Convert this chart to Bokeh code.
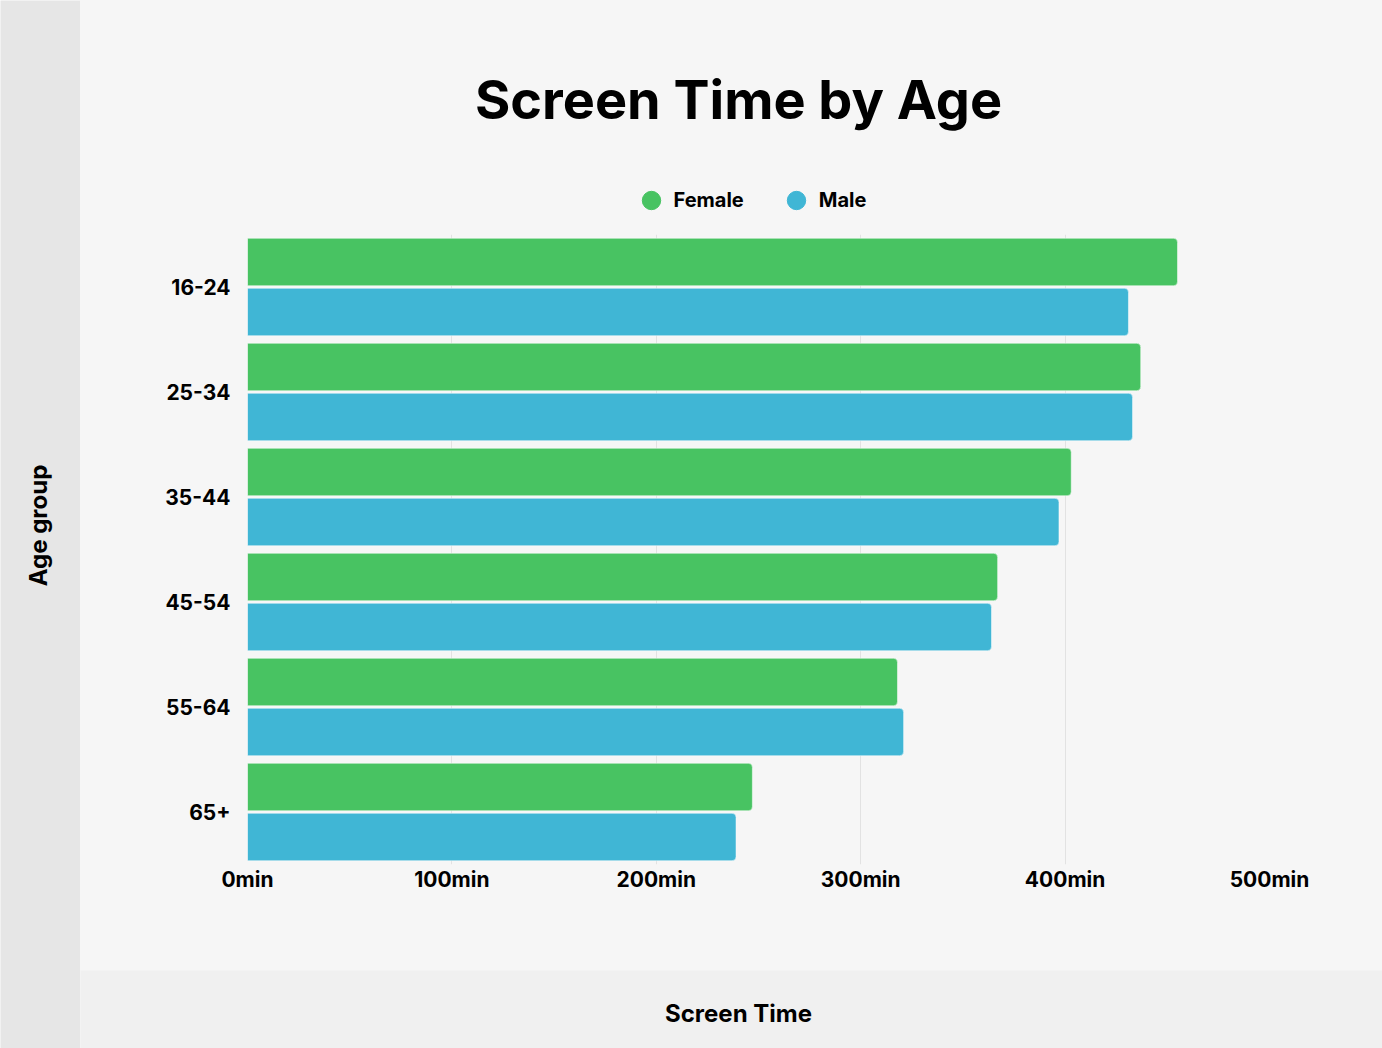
from math import pi

from bokeh.plotting import figure
from bokeh.models import (FactorRange, Range1d, ColumnDataSource, Label, Legend,
                          LegendItem, FixedTicker, PrintfTickFormatter, Plot)
from bokeh.transform import dodge
from bokeh.layouts import row, column
from bokeh.embed import file_html
from bokeh.resources import INLINE

# ---- data ----
age_groups = ["16-24", "25-34", "35-44", "45-54", "55-64", "65+"]
female_minutes = [455, 437, 403, 367, 318, 247]
male_minutes = [431, 433, 397, 364, 321, 239]
x_ticks = [0, 100, 200, 300, 400, 500]
series_names = ["Female", "Male"]

GREEN = "#48c362"
BLUE = "#40b6d5"
PANEL = "#f6f6f6"
LEFT_STRIP = "#e6e6e6"
BOTTOM_STRIP = "#f0f0f0"
FONT = "Inter"

HAS_FA = "frame_align" in Plot.properties()
FA = {"frame_align": False} if HAS_FA else {}

MAIN_W = 1302
LB, RB = 167, 113          # main frame borders (left/right)


def strip_fig(w, h, color, aligned):
    """A plain figure whose frame is used as a coloured panel."""
    if aligned:
        f = figure(width=w, height=h, x_range=Range1d(0, w), y_range=Range1d(0, h),
                   output_backend="svg", toolbar_location=None, min_border=0,
                   x_axis_type=None, y_axis_type=None, **FA)
    else:
        f = figure(width=w, height=h, x_range=Range1d(LB, w - RB), y_range=Range1d(0, h),
                   output_backend="svg", toolbar_location=None, min_border=0,
                   min_border_left=LB, min_border_right=RB,
                   x_axis_type=None, y_axis_type=None)
    f.background_fill_color = color
    f.border_fill_color = color
    f.outline_line_color = None
    return f


src = ColumnDataSource(dict(age=age_groups, female=female_minutes, male=male_minutes))

# ---- header (title + legend) ----
hf = strip_fig(MAIN_W, 234, PANEL, HAS_FA)
hf.add_layout(Label(x=658, y=135, text="Screen Time by Age", text_align="center",
                    text_baseline="middle", text_font=FONT,
                    text_font_style="bold", text_font_size="54px",
                    text_color="#000000"))
# hidden proxy renderers: they only provide the round legend markers
fs = hf.scatter(x=female_minutes, y=female_minutes, size=20, color=GREEN, visible=False)
ms = hf.scatter(x=male_minutes, y=male_minutes, size=20, color=BLUE, visible=False)
legend = Legend(items=[LegendItem(label=series_names[0], renderers=[fs]),
                       LegendItem(label=series_names[1], renderers=[ms])],
                orientation="horizontal",
                location=(547.5 if HAS_FA else 547.5 - LB, 9),
                glyph_width=46, glyph_height=50, label_standoff=0, spacing=29,
                padding=0, margin=0, border_line_color=None,
                background_fill_alpha=0,
                label_text_font=FONT, label_text_font_style="bold",
                label_text_font_size="20px", label_text_color="#000000")
hf.add_layout(legend)

# ---- main chart ----
p = figure(width=MAIN_W, height=736,
           y_range=FactorRange(factors=age_groups[::-1]),
           x_range=Range1d(0, 500),
           output_backend="svg", toolbar_location=None,
           min_border_left=LB, min_border_right=RB,
           min_border_top=0, min_border_bottom=106, **FA)
p.background_fill_color = PANEL
p.border_fill_color = PANEL
p.outline_line_color = None

p.hbar(y=dodge("age", 0.238, range=p.y_range), left=0, right="female", height=0.452,
       source=src, fill_color=GREEN, line_color="white", line_alpha=0.5, line_width=1,
       border_radius=(0, 4, 4, 0))
p.hbar(y=dodge("age", -0.238, range=p.y_range), left=0, right="male", height=0.452,
       source=src, fill_color=BLUE, line_color="white", line_alpha=0.5, line_width=1,
       border_radius=(0, 4, 4, 0))

p.xaxis.ticker = FixedTicker(ticks=x_ticks)
p.xaxis.formatter = PrintfTickFormatter(format="%dmin")
for ax in (p.xaxis, p.yaxis):
    ax.axis_line_color = None
    ax.major_tick_line_color = None
    ax.minor_tick_line_color = None
    ax.major_tick_out = 0
    ax.major_tick_in = 0
    ax.major_label_text_font = FONT
    ax.major_label_text_font_style = "bold"
    ax.major_label_text_font_size = "21px"
    ax.major_label_text_color = "#000000"
p.yaxis.major_label_standoff = 17
p.xaxis.major_label_standoff = 2

p.xgrid.grid_line_color = "#e2e2e2"
p.xgrid.grid_line_width = 1
p.ygrid.grid_line_color = None

# ---- bottom strip with x title ----
bf = strip_fig(MAIN_W, 78, BOTTOM_STRIP, HAS_FA)
bf.add_layout(Label(x=658, y=35, text="Screen Time",
                    text_align="center", text_baseline="middle",
                    text_font=FONT, text_font_style="bold",
                    text_font_size="24px", text_color="#000000"))

# ---- left strip with y title ----
lf = figure(width=80, height=1048, x_range=Range1d(0, 80), y_range=Range1d(0, 1048),
            output_backend="svg", toolbar_location=None, min_border=0,
            x_axis_type=None, y_axis_type=None, **FA)
lf.background_fill_color = LEFT_STRIP
lf.border_fill_color = LEFT_STRIP
lf.outline_line_color = None
lf.add_layout(Label(x=37.5, y=523, text="Age group", angle=pi / 2,
                    text_align="center", text_baseline="middle",
                    text_font=FONT, text_font_style="bold",
                    text_font_size="24px", text_color="#000000"))

layout = row(lf, column(hf, p, bf, styles={"background-color": PANEL}))

open("out.html", "w").write(file_html(layout, INLINE, "Screen Time by Age"))
